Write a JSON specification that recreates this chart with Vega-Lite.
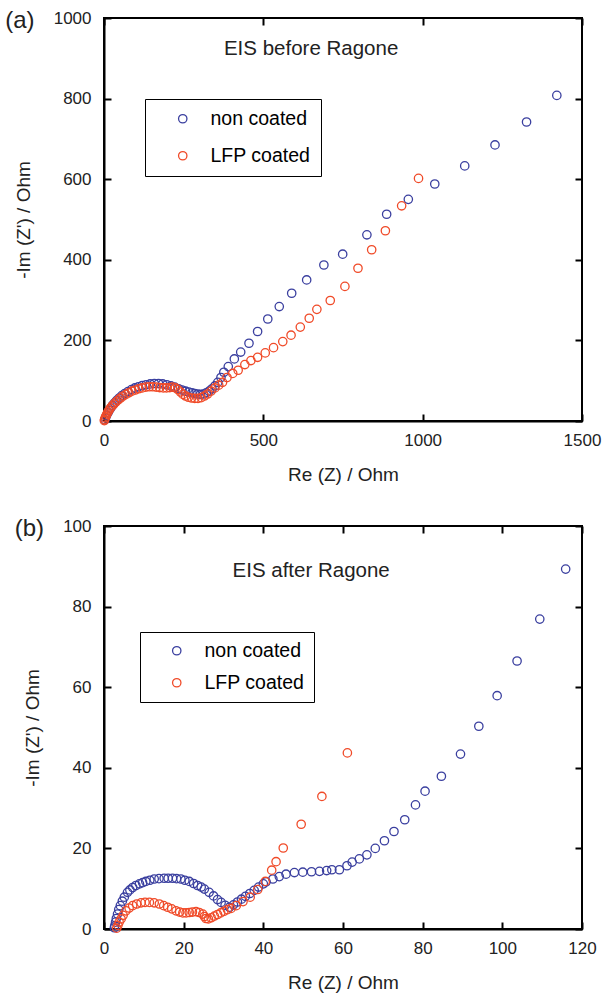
{
  "$schema": "https://vega.github.io/schema/vega-lite/v6.json",
  "padding": {"left": 4, "top": 8, "right": 17, "bottom": 5},
  "spacing": 31,
  "config": {
    "font": "Liberation Sans",
    "view": {"stroke": "black", "strokeWidth": 2},
    "axis": {
      "grid": false,
      "domainColor": "black",
      "domainWidth": 2,
      "tickColor": "black",
      "tickWidth": 2,
      "tickSize": -7,
      "labelFontSize": 17,
      "labelColor": "#222222",
      "labelFlush": false,
      "titleFontSize": 19,
      "titleFontWeight": "normal",
      "titleColor": "#222222",
      "format": "d"
    },
    "title": {"fontSize": 24, "fontWeight": "normal", "color": "#222222"}
  },
  "datasets": {
    "a": [
      {"s":"non coated","re":3,"im":3},{"s":"non coated","re":5,"im":8},{"s":"non coated","re":8,"im":14},{"s":"non coated","re":12,"im":20},{"s":"non coated","re":16,"im":26},{"s":"non coated","re":21,"im":32},{"s":"non coated","re":27,"im":39},{"s":"non coated","re":33,"im":45},{"s":"non coated","re":40,"im":51},{"s":"non coated","re":48,"im":57},{"s":"non coated","re":56,"im":63},{"s":"non coated","re":65,"im":68},{"s":"non coated","re":75,"im":73},{"s":"non coated","re":86,"im":78},{"s":"non coated","re":97,"im":82},{"s":"non coated","re":108,"im":85},{"s":"non coated","re":120,"im":88},{"s":"non coated","re":132,"im":90},{"s":"non coated","re":145,"im":92},{"s":"non coated","re":158,"im":93},{"s":"non coated","re":171,"im":93},{"s":"non coated","re":184,"im":92},{"s":"non coated","re":197,"im":90},{"s":"non coated","re":210,"im":87},{"s":"non coated","re":222,"im":84},{"s":"non coated","re":234,"im":80},{"s":"non coated","re":245,"im":77},{"s":"non coated","re":256,"im":74},{"s":"non coated","re":266,"im":72},{"s":"non coated","re":276,"im":70},{"s":"non coated","re":285,"im":68},{"s":"non coated","re":294,"im":67},{"s":"non coated","re":303,"im":66},{"s":"non coated","re":312,"im":67},{"s":"non coated","re":321,"im":70},{"s":"non coated","re":330,"im":74},{"s":"non coated","re":339,"im":80},{"s":"non coated","re":348,"im":87},{"s":"non coated","re":357,"im":96},{"s":"non coated","re":367,"im":108},{"s":"non coated","re":376,"im":121},{"s":"non coated","re":390,"im":135},{"s":"non coated","re":409,"im":154},{"s":"non coated","re":429,"im":171},{"s":"non coated","re":455,"im":193},{"s":"non coated","re":482,"im":222},{"s":"non coated","re":514,"im":253},{"s":"non coated","re":550,"im":284},{"s":"non coated","re":589,"im":317},{"s":"non coated","re":636,"im":350},{"s":"non coated","re":690,"im":387},{"s":"non coated","re":749,"im":414},{"s":"non coated","re":825,"im":462},{"s":"non coated","re":887,"im":513},{"s":"non coated","re":955,"im":550},{"s":"non coated","re":1038,"im":588},{"s":"non coated","re":1132,"im":633},{"s":"non coated","re":1227,"im":685},{"s":"non coated","re":1326,"im":742},{"s":"non coated","re":1421,"im":808},
      {"s":"LFP coated","re":1,"im":1},{"s":"LFP coated","re":2,"im":4},{"s":"LFP coated","re":4,"im":8},{"s":"LFP coated","re":6,"im":12},{"s":"LFP coated","re":9,"im":17},{"s":"LFP coated","re":12,"im":22},{"s":"LFP coated","re":16,"im":27},{"s":"LFP coated","re":20,"im":32},{"s":"LFP coated","re":25,"im":37},{"s":"LFP coated","re":31,"im":42},{"s":"LFP coated","re":37,"im":47},{"s":"LFP coated","re":44,"im":52},{"s":"LFP coated","re":52,"im":57},{"s":"LFP coated","re":60,"im":62},{"s":"LFP coated","re":69,"im":66},{"s":"LFP coated","re":78,"im":70},{"s":"LFP coated","re":88,"im":74},{"s":"LFP coated","re":98,"im":77},{"s":"LFP coated","re":109,"im":80},{"s":"LFP coated","re":120,"im":82},{"s":"LFP coated","re":131,"im":84},{"s":"LFP coated","re":142,"im":85},{"s":"LFP coated","re":153,"im":85},{"s":"LFP coated","re":164,"im":84},{"s":"LFP coated","re":175,"im":83},{"s":"LFP coated","re":186,"im":82},{"s":"LFP coated","re":196,"im":82},{"s":"LFP coated","re":206,"im":83},{"s":"LFP coated","re":215,"im":84},{"s":"LFP coated","re":224,"im":82},{"s":"LFP coated","re":232,"im":78},{"s":"LFP coated","re":240,"im":72},{"s":"LFP coated","re":248,"im":66},{"s":"LFP coated","re":256,"im":62},{"s":"LFP coated","re":265,"im":59},{"s":"LFP coated","re":275,"im":57},{"s":"LFP coated","re":285,"im":56},{"s":"LFP coated","re":295,"im":56},{"s":"LFP coated","re":305,"im":58},{"s":"LFP coated","re":315,"im":62},{"s":"LFP coated","re":325,"im":67},{"s":"LFP coated","re":336,"im":74},{"s":"LFP coated","re":348,"im":82},{"s":"LFP coated","re":360,"im":89},{"s":"LFP coated","re":372,"im":96},{"s":"LFP coated","re":386,"im":108},{"s":"LFP coated","re":404,"im":118},{"s":"LFP coated","re":421,"im":126},{"s":"LFP coated","re":442,"im":140},{"s":"LFP coated","re":461,"im":150},{"s":"LFP coated","re":482,"im":158},{"s":"LFP coated","re":506,"im":169},{"s":"LFP coated","re":532,"im":182},{"s":"LFP coated","re":561,"im":197},{"s":"LFP coated","re":587,"im":213},{"s":"LFP coated","re":616,"im":233},{"s":"LFP coated","re":644,"im":255},{"s":"LFP coated","re":668,"im":277},{"s":"LFP coated","re":710,"im":299},{"s":"LFP coated","re":756,"im":334},{"s":"LFP coated","re":797,"im":379},{"s":"LFP coated","re":840,"im":425},{"s":"LFP coated","re":883,"im":472},{"s":"LFP coated","re":934,"im":534},{"s":"LFP coated","re":987,"im":602}
    ],
    "b": [
      {"s":"non coated","re":2.6,"im":0.3},{"s":"non coated","re":2.7,"im":0.8},{"s":"non coated","re":2.9,"im":1.7},{"s":"non coated","re":3.1,"im":2.6},{"s":"non coated","re":3.4,"im":3.7},{"s":"non coated","re":3.7,"im":4.8},{"s":"non coated","re":4.1,"im":5.8},{"s":"non coated","re":4.6,"im":6.9},{"s":"non coated","re":5.1,"im":7.9},{"s":"non coated","re":5.9,"im":9.1},{"s":"non coated","re":6.5,"im":9.7},{"s":"non coated","re":7.2,"im":10.3},{"s":"non coated","re":8.0,"im":10.8},{"s":"non coated","re":8.9,"im":11.2},{"s":"non coated","re":9.7,"im":11.5},{"s":"non coated","re":10.5,"im":11.8},{"s":"non coated","re":11.5,"im":12.1},{"s":"non coated","re":12.6,"im":12.4},{"s":"non coated","re":13.8,"im":12.5},{"s":"non coated","re":15.1,"im":12.6},{"s":"non coated","re":16.1,"im":12.6},{"s":"non coated","re":17.2,"im":12.6},{"s":"non coated","re":18.2,"im":12.5},{"s":"non coated","re":19.3,"im":12.4},{"s":"non coated","re":20.3,"im":12.1},{"s":"non coated","re":21.4,"im":11.8},{"s":"non coated","re":22.5,"im":11.3},{"s":"non coated","re":23.5,"im":10.8},{"s":"non coated","re":24.4,"im":10.4},{"s":"non coated","re":25.2,"im":9.9},{"s":"non coated","re":26.4,"im":9.1},{"s":"non coated","re":27.5,"im":8.2},{"s":"non coated","re":28.5,"im":7.3},{"s":"non coated","re":29.4,"im":6.6},{"s":"non coated","re":30.4,"im":5.9},{"s":"non coated","re":31.5,"im":5.4},{"s":"non coated","re":32.5,"im":6.0},{"s":"non coated","re":33.5,"im":6.7},{"s":"non coated","re":34.5,"im":7.4},{"s":"non coated","re":35.5,"im":8.1},{"s":"non coated","re":36.6,"im":8.8},{"s":"non coated","re":37.7,"im":9.6},{"s":"non coated","re":38.8,"im":10.4},{"s":"non coated","re":40.0,"im":11.2},{"s":"non coated","re":40.7,"im":11.7},{"s":"non coated","re":42.4,"im":12.4},{"s":"non coated","re":44.0,"im":13.0},{"s":"non coated","re":45.7,"im":13.6},{"s":"non coated","re":47.8,"im":14.0},{"s":"non coated","re":49.9,"im":14.1},{"s":"non coated","re":52.1,"im":14.2},{"s":"non coated","re":54.1,"im":14.3},{"s":"non coated","re":55.9,"im":14.5},{"s":"non coated","re":57.2,"im":14.7},{"s":"non coated","re":59.1,"im":14.7},{"s":"non coated","re":61.0,"im":15.7},{"s":"non coated","re":62.3,"im":16.6},{"s":"non coated","re":64.1,"im":17.4},{"s":"non coated","re":66.0,"im":18.4},{"s":"non coated","re":68.1,"im":20.0},{"s":"non coated","re":70.4,"im":21.9},{"s":"non coated","re":72.8,"im":24.2},{"s":"non coated","re":75.5,"im":27.1},{"s":"non coated","re":78.2,"im":30.8},{"s":"non coated","re":80.6,"im":34.2},{"s":"non coated","re":84.7,"im":37.9},{"s":"non coated","re":89.5,"im":43.4},{"s":"non coated","re":94.1,"im":50.3},{"s":"non coated","re":98.7,"im":57.9},{"s":"non coated","re":103.7,"im":66.5},{"s":"non coated","re":109.4,"im":76.9},{"s":"non coated","re":115.9,"im":89.3},
      {"s":"LFP coated","re":3.2,"im":0.2},{"s":"LFP coated","re":3.5,"im":0.9},{"s":"LFP coated","re":3.8,"im":1.7},{"s":"LFP coated","re":4.3,"im":2.5},{"s":"LFP coated","re":4.8,"im":3.4},{"s":"LFP coated","re":5.5,"im":4.5},{"s":"LFP coated","re":6.3,"im":5.2},{"s":"LFP coated","re":7.2,"im":5.8},{"s":"LFP coated","re":8.2,"im":6.2},{"s":"LFP coated","re":9.3,"im":6.5},{"s":"LFP coated","re":10.3,"im":6.6},{"s":"LFP coated","re":11.4,"im":6.6},{"s":"LFP coated","re":12.6,"im":6.5},{"s":"LFP coated","re":13.9,"im":6.2},{"s":"LFP coated","re":15.0,"im":5.8},{"s":"LFP coated","re":16.0,"im":5.4},{"s":"LFP coated","re":17.0,"im":5.0},{"s":"LFP coated","re":18.1,"im":4.5},{"s":"LFP coated","re":19.0,"im":4.2},{"s":"LFP coated","re":19.8,"im":4.0},{"s":"LFP coated","re":20.6,"im":4.0},{"s":"LFP coated","re":21.4,"im":4.1},{"s":"LFP coated","re":22.2,"im":4.2},{"s":"LFP coated","re":23.1,"im":4.3},{"s":"LFP coated","re":23.9,"im":4.1},{"s":"LFP coated","re":24.8,"im":3.7},{"s":"LFP coated","re":25.2,"im":3.1},{"s":"LFP coated","re":25.6,"im":2.6},{"s":"LFP coated","re":26.2,"im":2.5},{"s":"LFP coated","re":26.9,"im":2.8},{"s":"LFP coated","re":27.7,"im":3.2},{"s":"LFP coated","re":28.5,"im":3.6},{"s":"LFP coated","re":29.3,"im":4.0},{"s":"LFP coated","re":30.1,"im":4.4},{"s":"LFP coated","re":31.0,"im":4.8},{"s":"LFP coated","re":31.9,"im":5.1},{"s":"LFP coated","re":33.2,"im":5.8},{"s":"LFP coated","re":34.9,"im":6.8},{"s":"LFP coated","re":36.7,"im":7.9},{"s":"LFP coated","re":38.6,"im":9.8},{"s":"LFP coated","re":40.5,"im":11.8},{"s":"LFP coated","re":42.1,"im":14.6},{"s":"LFP coated","re":43.2,"im":16.7},{"s":"LFP coated","re":45.0,"im":20.1},{"s":"LFP coated","re":49.5,"im":26.0},{"s":"LFP coated","re":54.7,"im":32.9},{"s":"LFP coated","re":61.1,"im":43.7}
    ]
  },
  "vconcat": [
    {
      "width": 478,
      "height": 403,
      "title": {"text": "(a)", "anchor": "start", "frame": "bounds", "dy": 24, "dx": -9, "offset": 0},
      "resolve": {"scale": {"x": "independent", "y": "independent"}},
      "layer": [
        {
          "layer": [
            {
              "data": {"name": "a"},
              "mark": {"type": "point", "filled": false, "size": 70, "strokeWidth": 1.3, "opacity": 1},
              "encoding": {
                "x": {"field": "re", "type": "quantitative", "scale": {"domain": [0, 1500], "nice": false},
                      "axis": {"title": "Re (Z) / Ohm", "orient": "bottom", "values": [0, 500, 1000, 1500], "labelPadding": 18, "titlePadding": 17}},
                "y": {"field": "im", "type": "quantitative", "scale": {"domain": [0, 1000], "nice": false},
                      "axis": {"title": "-Im (Z') / Ohm", "orient": "left", "values": [0, 200, 400, 600, 800, 1000], "labelPadding": 20, "titlePadding": 20}},
                "color": {"field": "s", "type": "nominal",
                          "scale": {"domain": ["non coated", "LFP coated"], "range": ["#3a3f9f", "#f04a28"]},
                          "legend": {"title": null, "orient": "none", "legendX": 41, "legendY": 81,
                                     "strokeColor": "black", "padding": 10, "symbolOffset": 18, "labelOffset": 18,
                                     "rowPadding": 16, "labelFontSize": 19.5, "symbolSize": 70, "symbolStrokeWidth": 1.3,
                                     "encode": {"legend": {"update": {"strokeWidth": {"value": 2}}},
                                                "labels": {"update": {"fill": {"signal": "datum.label === 'non coated' ? '#3a3f9f' : '#f04a28'"}}}}}}
              }
            },
            {
              "data": {"values": [{"re": 650, "im": 922, "label": "EIS before Ragone"}]},
              "mark": {"type": "text", "fontSize": 20.5, "color": "#222222"},
              "encoding": {
                "x": {"field": "re", "type": "quantitative"},
                "y": {"field": "im", "type": "quantitative"},
                "text": {"field": "label"}
              }
            }
          ]
        },
        {
          "data": {"name": "a"},
          "mark": {"type": "point", "opacity": 0},
          "encoding": {
            "x": {"field": "re", "type": "quantitative", "scale": {"domain": [0, 1500], "nice": false},
                  "axis": {"orient": "top", "values": [0, 500, 1000, 1500], "labels": false, "title": null, "domain": false}},
            "y": {"field": "im", "type": "quantitative", "scale": {"domain": [0, 1000], "nice": false},
                  "axis": {"orient": "right", "values": [0, 200, 400, 600, 800, 1000], "labels": false, "title": null, "domain": false}}
          }
        }
      ]
    },
    {
      "width": 478,
      "height": 403,
      "title": {"text": "(b)", "anchor": "start", "frame": "bounds", "dy": 24, "dx": -9, "offset": 0},
      "resolve": {"scale": {"x": "independent", "y": "independent"}},
      "layer": [
        {
          "layer": [
            {
              "data": {"name": "b"},
              "mark": {"type": "point", "filled": false, "size": 70, "strokeWidth": 1.3, "opacity": 1},
              "encoding": {
                "x": {"field": "re", "type": "quantitative", "scale": {"domain": [0, 120], "nice": false},
                      "axis": {"title": "Re (Z) / Ohm", "orient": "bottom", "values": [0, 20, 40, 60, 80, 100, 120], "labelPadding": 18, "titlePadding": 17}},
                "y": {"field": "im", "type": "quantitative", "scale": {"domain": [0, 100], "nice": false},
                      "axis": {"title": "-Im (Z') / Ohm", "orient": "left", "values": [0, 20, 40, 60, 80, 100], "labelPadding": 20, "titlePadding": 20}},
                "color": {"field": "s", "type": "nominal",
                          "scale": {"domain": ["non coated", "LFP coated"], "range": ["#3a3f9f", "#f04a28"]},
                          "legend": {"title": null, "orient": "none", "legendX": 36, "legendY": 106,
                                     "strokeColor": "black", "padding": 9, "symbolOffset": 18, "labelOffset": 18,
                                     "rowPadding": 11, "labelFontSize": 19.5, "symbolSize": 70, "symbolStrokeWidth": 1.3,
                                     "encode": {"legend": {"update": {"strokeWidth": {"value": 2}}},
                                                "labels": {"update": {"fill": {"signal": "datum.label === 'non coated' ? '#3a3f9f' : '#f04a28'"}}}}}}
              }
            },
            {
              "data": {"values": [{"re": 52, "im": 88.8, "label": "EIS after Ragone"}]},
              "mark": {"type": "text", "fontSize": 20.5, "color": "#222222"},
              "encoding": {
                "x": {"field": "re", "type": "quantitative"},
                "y": {"field": "im", "type": "quantitative"},
                "text": {"field": "label"}
              }
            }
          ]
        },
        {
          "data": {"name": "b"},
          "mark": {"type": "point", "opacity": 0},
          "encoding": {
            "x": {"field": "re", "type": "quantitative", "scale": {"domain": [0, 120], "nice": false},
                  "axis": {"orient": "top", "values": [0, 20, 40, 60, 80, 100, 120], "labels": false, "title": null, "domain": false}},
            "y": {"field": "im", "type": "quantitative", "scale": {"domain": [0, 100], "nice": false},
                  "axis": {"orient": "right", "values": [0, 20, 40, 60, 80, 100], "labels": false, "title": null, "domain": false}}
          }
        }
      ]
    }
  ],
  "resolve": {"scale": {"color": "independent"}, "legend": {"color": "independent"}}
}
